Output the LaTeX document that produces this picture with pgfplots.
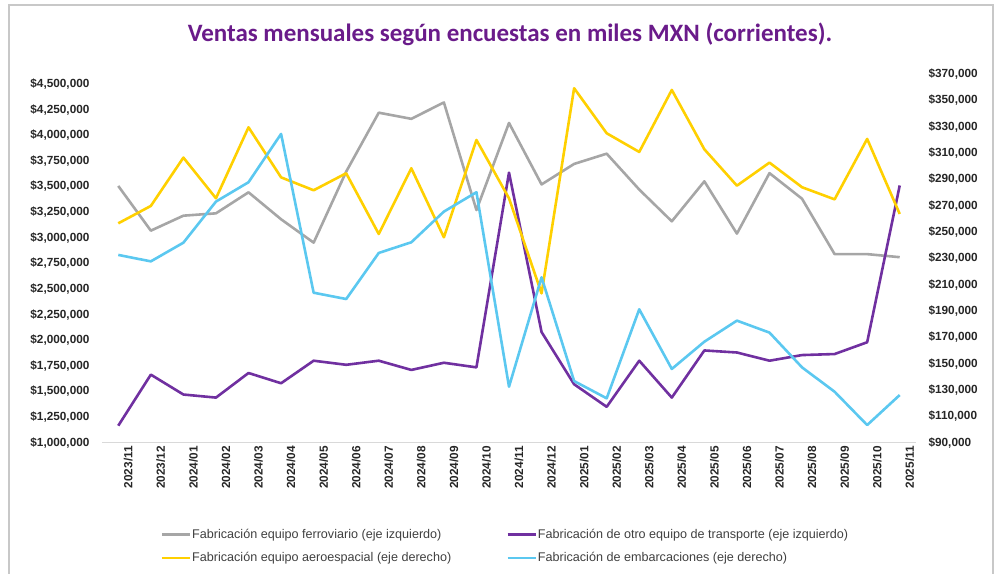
\documentclass[border=0pt]{standalone}
\usepackage{fontspec}
\setmainfont{Liberation Sans}
\newfontfamily\titlefont{Carlito}
\usepackage{pgfplots}
\pgfplotsset{compat=1.18}

\definecolor{cgray}{HTML}{A6A6A6}
\definecolor{cpurple}{HTML}{7030A0}
\definecolor{cyellow}{HTML}{FFD000}
\definecolor{cblue}{HTML}{5BC8F0}
\definecolor{ctitle}{HTML}{6A1B8A}
\definecolor{cframe}{HTML}{C8C8C8}

\pgfplotsset{
  common/.style={
    width=814pt, height=368.7pt, scale only axis,
    at={(102pt,131.3pt)}, anchor=south west,
    xmin=-0.5, xmax=24.5,
    tick style={draw=none},
    /pgf/number format/assume math mode=true,
    tick label style={font=\bfseries\fontsize{11.8}{12}\selectfont, text=black!85},
    every axis plot/.append style={line width=2.6pt, line join=round},
  },
}

\begin{document}
\begin{tikzpicture}
\path (0,0) rectangle (999pt,574pt);
\draw[cframe, line width=1.5pt] (9pt,0) -- (9pt,569pt) -- (993pt,569pt) -- (993pt,0);

\node[font=\titlefont\bfseries\fontsize{25}{27}\selectfont, text=ctitle] at (510pt,540pt)
  {Ventas mensuales según encuestas en miles MXN (corrientes).};

% eje izquierdo
\begin{axis}[common,
  ymin=1000000, ymax=4597500,
  ytick={1000000,1250000,...,4500000},
  yticklabel={\$\pgfmathprintnumber[fixed,precision=0,1000 sep={,}]{\tick}},
  yticklabel style={xshift=-9pt},
  scaled y ticks=false,
  axis x line*=bottom, axis y line*=left,
  x axis line style={draw=black!15, line width=1pt},
  y axis line style={draw=none},
  xtick={0,...,24},
  xticklabels={2023/11,2023/12,2024/01,2024/02,2024/03,2024/04,2024/05,2024/06,2024/07,2024/08,2024/09,2024/10,2024/11,2024/12,2025/01,2025/02,2025/03,2025/04,2025/05,2025/06,2025/07,2025/08,2025/09,2025/10,2025/11},
  xticklabel style={rotate=90, anchor=east, yshift=-10pt},
]
\addplot[cgray] coordinates {
 (0,3505000) (1,3069000) (2,3215000) (3,3238000) (4,3443000) (5,3180000)
 (6,2952000) (7,3645000) (8,4220000) (9,4160000) (10,4320000) (11,3270000)
 (12,4120000) (13,3520000) (14,3720000) (15,3820000) (16,3470000) (17,3160000)
 (18,3550000) (19,3040000) (20,3630000) (21,3380000) (22,2840000) (23,2840000)
 (24,2810000)};
\addplot[cpurple] coordinates {
 (0,1166000) (1,1664000) (2,1470000) (3,1440000) (4,1680000) (5,1580000)
 (6,1800000) (7,1760000) (8,1800000) (9,1710000) (10,1780000) (11,1735000)
 (12,3635000) (13,2080000) (14,1570000) (15,1350000) (16,1800000) (17,1440000)
 (18,1900000) (19,1880000) (20,1800000) (21,1855000) (22,1865000) (23,1980000)
 (24,3510000)};
\end{axis}

% eje derecho
\begin{axis}[common,
  ymin=90000, ymax=370000,
  ytick={90000,110000,...,370000},
  yticklabel={\$\pgfmathprintnumber[fixed,precision=0,1000 sep={,}]{\tick}},
  yticklabel style={xshift=9pt},
  scaled y ticks=false,
  axis x line=none, axis y line*=right,
  y axis line style={draw=none},
  legend columns=2,
  legend cell align=left,
  legend image code/.code={\draw[#1, line width=2.6pt] (0pt,0pt) -- (28pt,0pt);},
  legend style={draw=none, fill=none, at={(0.068,-0.225)}, anchor=north west,
    font=\fontsize{12.6}{13}\selectfont, text=black!75,
    nodes={inner sep=1pt},
    /tikz/every even column/.append style={column sep=54pt},
    row sep=11pt},
]
\addlegendimage{cgray}
\addlegendentry{Fabricación equipo ferroviario (eje izquierdo)}
\addlegendimage{cpurple}
\addlegendentry{Fabricación de otro equipo de transporte (eje izquierdo)}
\addplot[cyellow] coordinates {
 (0,256600) (1,269800) (2,306500) (3,275600) (4,329500) (5,291500)
 (6,281700) (7,294600) (8,248500) (9,298400) (10,246000) (11,319900)
 (12,275600) (13,203400) (14,359200) (15,325000) (16,310800) (17,357900)
 (18,312800) (19,285200) (20,302700) (21,284000) (22,274800) (23,320700)
 (24,263700)};
\addlegendentry{Fabricación equipo aeroespacial (eje derecho)}
\addplot[cblue] coordinates {
 (0,232600) (1,227700) (2,241900) (3,273100) (4,287800) (5,324500)
 (6,203900) (7,199100) (8,234100) (9,242200) (10,265500) (11,280200)
 (12,132500) (13,215600) (14,136800) (15,123700) (16,191300) (17,146000)
 (18,166700) (19,182700) (20,173600) (21,147200) (22,128700) (23,103400)
 (24,126200)};
\addlegendentry{Fabricación de embarcaciones (eje derecho)}
\end{axis}
\end{tikzpicture}
\end{document}
